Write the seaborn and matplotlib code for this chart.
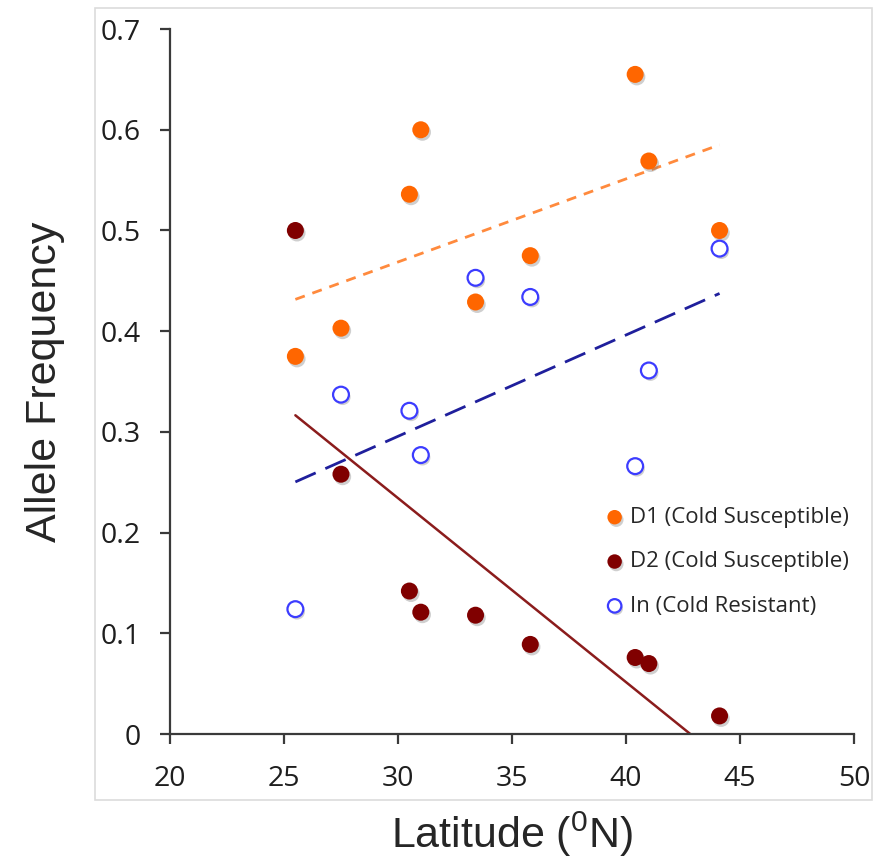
import numpy as np
import pandas as pd
import matplotlib
matplotlib.use('Agg')
import matplotlib.pyplot as plt
import matplotlib.patheffects as pe
from matplotlib.patches import Rectangle
from matplotlib.ticker import FuncFormatter
import seaborn as sns

# values
latitude = [25.5, 27.5, 30.5, 31.0, 33.4, 35.8, 40.4, 41.0, 44.1]
d1_freq = [0.375, 0.403, 0.536, 0.600, 0.429, 0.475, 0.655, 0.569, 0.500]
d2_freq = [0.500, 0.258, 0.142, 0.121, 0.118, 0.089, 0.076, 0.070, 0.018]
in_freq = [0.124, 0.337, 0.321, 0.277, 0.453, 0.434, 0.266, 0.361, 0.482]

labels = ['D1 (Cold Susceptible)', 'D2 (Cold Susceptible)', 'In (Cold Resistant)']
x_ticks = [20, 25, 30, 35, 40, 45, 50]
y_ticks = [0, 0.1, 0.2, 0.3, 0.4, 0.5, 0.6, 0.7]

df = pd.DataFrame({'lat': latitude, 'd1': d1_freq, 'd2': d2_freq, 'inv': in_freq})

sns.set_style('ticks')
plt.rcParams['font.family'] = ['Open Sans', 'DejaVu Sans']
plt.rcParams['mathtext.fontset'] = 'custom'
plt.rcParams['mathtext.rm'] = 'Liberation Sans'

fig = plt.figure(figsize=(8.76, 8.65), dpi=100)
ax = fig.add_axes([0.194, 0.1514, 0.781, 0.815])

# light grey frame around the chart area
fig.patches.append(Rectangle((0.108, 0.075), 0.887, 0.916, transform=fig.transFigure,
                             fill=False, edgecolor='#dcdcdc', linewidth=1.2, zorder=0))

shadow = [pe.SimplePatchShadow(offset=(1.2, -1.8), shadow_rgbFace='#777777', alpha=0.35), pe.Normal()]

# trend lines
sns.regplot(data=df, x='lat', y='d1', scatter=False, ci=None, ax=ax,
            line_kws=dict(color='#ff8a3d', lw=2, ls=(0, (3.6, 2.9)), zorder=2))
sns.regplot(data=df, x='lat', y='inv', scatter=False, ci=None, ax=ax,
            line_kws=dict(color='#1f1f9c', lw=2, ls=(0, (8, 3.8)), zorder=2))
sns.regplot(data=df, x='lat', y='d2', scatter=False, ci=None, ax=ax,
            line_kws=dict(color='#8b1c1c', lw=1.8, ls='-', zorder=2))

# points
sns.scatterplot(data=df, x='lat', y='d1', ax=ax, color='#ff6600', s=150,
                linewidth=0, label=labels[0], zorder=3)
sns.scatterplot(data=df, x='lat', y='d2', ax=ax, color='#800000', s=150,
                linewidth=0, label=labels[1], zorder=3)
sns.scatterplot(data=df, x='lat', y='inv', ax=ax, facecolor='white', edgecolor='#3c3cff',
                s=130, linewidth=1.6, label=labels[2], zorder=3)
for coll in ax.collections:
    coll.set_path_effects(shadow)

ax.set_xlim(20, 50)
ax.set_ylim(0, 0.7)
ax.set_xticks(x_ticks)
ax.set_yticks(y_ticks)
ax.yaxis.set_major_formatter(FuncFormatter(lambda v, p: '%g' % round(v, 2)))

sns.despine(ax=ax)
for side in ['left', 'bottom']:
    ax.spines[side].set_color('#3a3a3a')
    ax.spines[side].set_linewidth(1.6)
ax.tick_params(axis='both', direction='out', length=7, width=1.6, color='#3a3a3a',
               labelsize=20.5, labelcolor='#1e1e1e')
ax.tick_params(axis='y', pad=14)
ax.tick_params(axis='x', pad=15)

ax.set_xlabel('Latitude ($^{0}$N)', fontsize=31, family='Liberation Sans', labelpad=12)
ax.set_ylabel('Allele Frequency', fontsize=31, family='Liberation Sans', labelpad=26)

ax.legend(loc='upper left', bbox_to_anchor=(0.637, 0.322), frameon=False,
          fontsize=16, handlelength=0.8, handletextpad=0.3, labelspacing=1.05,
          borderpad=0, borderaxespad=0, markerscale=0.85)

plt.savefig('out.png', dpi=100)
